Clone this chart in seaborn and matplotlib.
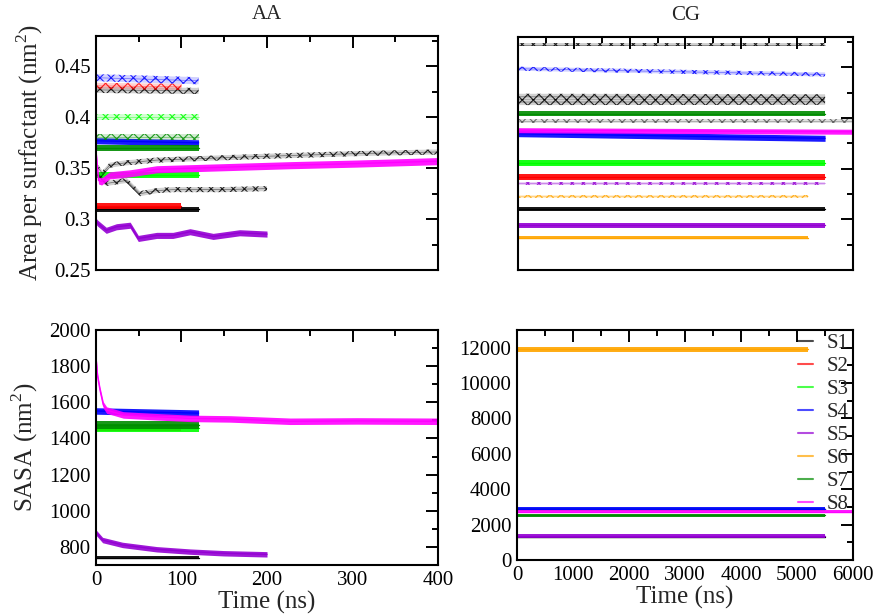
import matplotlib
matplotlib.use("Agg")
import matplotlib.pyplot as plt
from matplotlib.colors import to_rgba
from matplotlib.lines import Line2D
from matplotlib.ticker import MultipleLocator
import pandas as pd
import seaborn as sns

sns.set_theme(style="white")
plt.rcParams["font.family"] = ["Liberation Serif", "DejaVu Serif"]
plt.rcParams["mathtext.fontset"] = "custom"
plt.rcParams["mathtext.rm"] = "Liberation Serif"
plt.rcParams["hatch.linewidth"] = 0.8

SYSTEMS = ["S1", "S2", "S3", "S4", "S5", "S6", "S7", "S8"]
SYSTEM_COLORS = ["#000000", "#ff0000", "#00ff00", "#0000ff",
                 "#9400d3", "#ffa500", "#008c00", "#ff00ff"]

# ---------------- AA: area per surfactant ----------------
# steady traces: system, style, colour, start/end value, end time, half spread
aa_area_sys = ["S1", "S2", "S3", "S4", "S7", "S1", "S2", "S3", "S4", "S7"]
aa_area_kind = ["solid"] * 5 + ["hatch"] * 5
aa_area_color = ["#000000", "#ff0000", "#00ff00", "#0000ff", "#008c00",
                 "#000000", "#ff0000", "#00ff00", "#0000ff", "#008c00"]
aa_area_v0 = [0.3095, 0.3127, 0.343, 0.377, 0.370, 0.427, 0.431, 0.400, 0.439, 0.381]
aa_area_v1 = [0.3095, 0.3127, 0.343, 0.375, 0.370, 0.426, 0.430, 0.400, 0.436, 0.381]
aa_area_end = [120, 100, 120, 120, 120, 120, 100, 120, 120, 120]
aa_area_spread = [0.0025, 0.003, 0.003, 0.003, 0.003, 0.003, 0.003, 0.003, 0.0035, 0.003]

# time-dependent traces
aa_area_s5_t = [0, 2, 12, 24, 40, 49.5, 71, 90, 110, 137, 168, 200]
aa_area_s5 = [0.298, 0.296, 0.289, 0.2925, 0.294, 0.281, 0.284, 0.284,
              0.2876, 0.283, 0.2866, 0.2853]
aa_area_s5b_t = [0, 4, 12, 24, 36, 51.5, 71, 90, 149, 200]
aa_area_s5b = [0.345, 0.343, 0.335, 0.3366, 0.338, 0.325, 0.328, 0.329, 0.329, 0.330]
aa_area_s8_t = [0, 3, 6.6, 16, 40, 71, 149, 227, 305, 400]
aa_area_s8 = [0.367, 0.338, 0.337, 0.343, 0.345, 0.349, 0.351, 0.353, 0.3546, 0.357]
aa_area_s8b_t = [0, 3, 7.5, 16, 32, 71, 200, 305, 400]
aa_area_s8b = [0.352, 0.350, 0.345, 0.353, 0.355, 0.358, 0.3618, 0.3644, 0.366]

# ---------------- CG: area per surfactant ----------------
cg_area_sys = ["S1", "S2", "S3", "S4", "S5", "S6", "S7", "S8",
               "S1", "S2", "S3", "S4", "S5", "S6", "S8"]
cg_area_kind = ["solid"] * 8 + ["hatch"] * 7
cg_area_color = ["#000000", "#ff0000", "#00ff00", "#0000ff", "#9400d3",
                 "#ffa500", "#008c00", "#ff00ff",
                 "#000000", "#000000", "#000000", "#0000ff", "#9400d3",
                 "#ffa500", "#555555"]
cg_area_v0 = [0.3105, 0.3415, 0.3552, 0.3846, 0.294, 0.282, 0.4043, 0.388,
              0.4722, 0.4210, 0.4158, 0.4487, 0.3356, 0.3229, 0.397]
cg_area_v1 = [0.3105, 0.3415, 0.3552, 0.3800, 0.294, 0.282, 0.4043, 0.3865,
              0.4722, 0.4205, 0.4160, 0.4430, 0.3356, 0.3229, 0.397]
cg_area_end = [5500, 5500, 5500, 5500, 5500, 5200, 5500, 6000,
               5500, 5500, 5500, 5500, 5500, 5200, 6000]
cg_area_spread = [0.002, 0.003, 0.003, 0.003, 0.0025, 0.0015, 0.0025, 0.0025,
                  0.0015, 0.003, 0.003, 0.002, 0.0015, 0.0015, 0.002]

# ---------------- AA: SASA ----------------
aa_sasa_sys = ["S1", "S2", "S3", "S4", "S7"]
aa_sasa_v0 = [741, 1462, 1456, 1552, 1474]
aa_sasa_v1 = [741, 1462, 1456, 1540, 1474]
aa_sasa_end = [120, 100, 120, 120, 120]
aa_sasa_spread = [10, 18, 22, 18, 22]

aa_sasa_s5_t = [0, 7.8, 31, 71, 110, 149, 200]
aa_sasa_s5 = [880, 838, 811, 787, 774, 765, 759]
aa_sasa_s8_t = [0, 2, 4.7, 8.6, 12.5, 32, 71, 110, 157, 227, 305, 400]
aa_sasa_s8 = [1850, 1740, 1668, 1585, 1557, 1530, 1520, 1511, 1508, 1495, 1497, 1495]

# ---------------- CG: SASA ----------------
cg_sasa_v = [1280, 2880, 2860, 2900, 1360, 11900, 2520, 2740]
cg_sasa_end = [5500, 5500, 5500, 5500, 5500, 5200, 5500, 6000]
cg_sasa_spread = [60, 80, 80, 80, 90, 120, 100, 110]


def color_of(system):
    return SYSTEM_COLORS[SYSTEMS.index(system)]


def draw_trace(ax, t, y, spread, color, kind, z):
    df = pd.DataFrame({"t": t, "y": y})
    lo = df["y"] - spread
    hi = df["y"] + spread
    if kind == "solid":
        ax.fill_between(df["t"], lo, hi, color=color, alpha=0.9, lw=0, zorder=z)
        sns.lineplot(data=df, x="t", y="y", color=color, lw=1.0, ax=ax,
                     estimator=None, sort=False, legend=False, zorder=z)
    else:
        ax.fill_between(df["t"], lo, hi, facecolor=to_rgba(color, 0.18),
                        edgecolor=to_rgba(color, 0.85), hatch="xxx", lw=0, zorder=z)
        sns.lineplot(data=df, x="t", y="y", color=color, lw=0.5, alpha=0.5, ax=ax,
                     estimator=None, sort=False, legend=False, zorder=z)


def style_axis(ax, xmax, xmaj, xmin, ylim, ymaj, ymin):
    ax.set_xlim(0, xmax)
    ax.set_ylim(*ylim)
    ax.xaxis.set_major_locator(MultipleLocator(xmaj))
    ax.xaxis.set_minor_locator(MultipleLocator(xmin))
    ax.yaxis.set_major_locator(MultipleLocator(ymaj))
    ax.yaxis.set_minor_locator(MultipleLocator(ymin))
    ax.tick_params(which="both", direction="in", top=True, right=True,
                   width=1.4, labelsize=15, pad=4, colors="black")
    ax.tick_params(which="major", length=8.5)
    ax.tick_params(which="minor", length=4.5)
    for sp in ax.spines.values():
        sp.set_linewidth(1.5)
        sp.set_color("black")
    ax.set_xlabel("")
    ax.set_ylabel("")


fig = plt.figure(figsize=(8.78, 6.16), dpi=100)
ax_tl = fig.add_axes([0.1093, 0.5617, 0.3896, 0.3799])
ax_tr = fig.add_axes([0.5900, 0.5617, 0.3815, 0.3782])
ax_bl = fig.add_axes([0.1093, 0.0828, 0.3896, 0.3815])
ax_br = fig.add_axes([0.5888, 0.0909, 0.3827, 0.3734])

# AA area per surfactant
for i, s in enumerate(aa_area_sys):
    draw_trace(ax_tl, [0, aa_area_end[i]], [aa_area_v0[i], aa_area_v1[i]],
               aa_area_spread[i], aa_area_color[i], aa_area_kind[i], 2 + i * 0.01)
draw_trace(ax_tl, aa_area_s5b_t, aa_area_s5b, 0.0025, "#000000", "hatch", 2.2)
draw_trace(ax_tl, aa_area_s8b_t, aa_area_s8b, 0.0025, "#000000", "hatch", 2.2)
draw_trace(ax_tl, aa_area_s5_t, aa_area_s5, 0.003, color_of("S5"), "solid", 2.3)
draw_trace(ax_tl, aa_area_s8_t, aa_area_s8, 0.0035, color_of("S8"), "solid", 2.3)
style_axis(ax_tl, 400, 100, 50, (0.25, 0.48), 0.05, 0.025)
ax_tl.tick_params(labelbottom=False)
ax_tl.yaxis.set_major_formatter(plt.FuncFormatter(lambda v, p: f"{v:g}"))
ax_tl.set_ylabel("Area per surfactant (nm$^{2}$)", fontsize=18, labelpad=6)
ax_tl.set_title("AA", fontsize=15, pad=12)

# CG area per surfactant
for i, s in enumerate(cg_area_sys):
    draw_trace(ax_tr, [0, cg_area_end[i]], [cg_area_v0[i], cg_area_v1[i]],
               cg_area_spread[i], cg_area_color[i], cg_area_kind[i], 2 + i * 0.01)
style_axis(ax_tr, 6000, 1000, 500, (0.25, 0.48), 0.05, 0.025)
ax_tr.tick_params(labelbottom=False, labelleft=False)
ax_tr.set_title("CG", fontsize=15, pad=12)

# AA SASA
for i, s in enumerate(aa_sasa_sys):
    draw_trace(ax_bl, [0, aa_sasa_end[i]], [aa_sasa_v0[i], aa_sasa_v1[i]],
               aa_sasa_spread[i], color_of(s), "solid", 2 + i * 0.01)
draw_trace(ax_bl, aa_sasa_s5_t, aa_sasa_s5, 15, color_of("S5"), "solid", 2.2)
draw_trace(ax_bl, aa_sasa_s8_t, aa_sasa_s8, 18, color_of("S8"), "solid", 2.3)
style_axis(ax_bl, 400, 100, 50, (700, 2000), 200, 100)
ax_bl.set_xlabel("Time (ns)", fontsize=18, labelpad=1)
ax_bl.set_ylabel("SASA (nm$^{2}$)", fontsize=18, labelpad=6)

# CG SASA
for i, s in enumerate(SYSTEMS):
    draw_trace(ax_br, [0, cg_sasa_end[i]], [cg_sasa_v[i], cg_sasa_v[i]],
               cg_sasa_spread[i], color_of(s), "solid", 2 + i * 0.01)
style_axis(ax_br, 6000, 1000, 500, (0, 13000), 2000, 1000)
ax_br.set_xlabel("Time (ns)", fontsize=18, labelpad=1)

handles = [Line2D([0], [0], color=c, lw=1.5, alpha=0.7) for c in SYSTEM_COLORS]
fig.legend(handles, SYSTEMS, loc="upper left", bbox_to_anchor=(0.9089, 0.4580),
           frameon=False, fontsize=15, handlelength=0.7, handletextpad=0.65,
           labelspacing=0.16, borderpad=0, borderaxespad=0)

fig.savefig("out.png", dpi=100)
